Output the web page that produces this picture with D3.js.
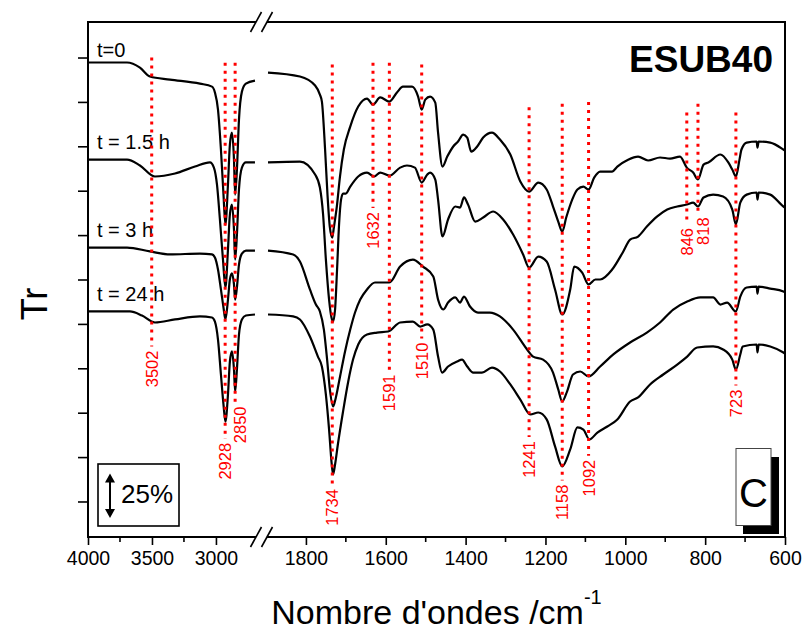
<!DOCTYPE html>
<html>
<head>
<meta charset="utf-8">
<script src="https://cdn.jsdelivr.net/npm/d3@7"></script>
<style>
	body { margin: 0; background: #fff; }
	text { font-family: "Liberation Sans", Arial, sans-serif; }
</style>
</head>
<body>
<div id="chart"></div>
<script>
// spectra: [wavenumber, Tr (offset, %)]
var spectrumT0 = [
	[4000,247.2],[3695,247.2],[3594,244.3],[3516,239.3],[3359,237.6],[3125,235.3],[3031,233.6],[3008,230.3],[2984,220.7],[2961,198.2],[2941,172.8],[2926,155.9],[2906,178.5],[2891,201],[2875,207.7],[2859,192.5],[2850,172.8],[2836,186.9],[2820,215],[2797,230.8],[2766,235.3],[2695,237],
	[1895,241.5],[1815,239.3],[1777,234.2],[1765,229.1],[1760,225.2],[1752,198.2],[1746,172.8],[1740,154.3],[1734,148.6],[1730,154.3],[1722,167.2],[1715,182.4],[1705,198.2],[1689,211.1],[1669,222.4],[1647,226.9],[1632,223.5],[1614,227.5],[1591,225.2],[1572,230.3],[1557,233.6],[1534,233.6],[1519,228],[1510,220.7],[1501,226.3],[1489,228],[1476,224.6],[1469,207.7],[1458,188.6],[1446,194.2],[1431,199.9],[1419,202.7],[1406,206.6],[1396,204.9],[1386,197],[1371,199.9],[1356,204.9],[1334,207.7],[1314,203.8],[1288,195.4],[1263,180.2],[1241,174.5],[1218,179.6],[1197,175.7],[1181,166.1],[1168,157.6],[1158,152],[1148,159.9],[1133,170],[1120,175.7],[1105,177.3],[1092,175.7],[1078,182.4],[1063,185.8],[1033,185.8],[1020,188.6],[993,192.5],[968,194.2],[943,192],[913,193.7],[888,193.1],[863,194.2],[846,188],[830,185.2],[818,181.3],[804,189.7],[792,190.9],[762,195.4],[742,190.9],[732,186.9],[723,183],[714,192.5],[709,198.2],[696,202.1],[671,202.7],[669,199.3],[666,202.7],[637,202.1],[604,198.2],[600,197.6]
];
var spectrumT15 = [
	[4000,192.5],[3695,192.5],[3594,189.2],[3477,183],[3320,184.7],[3164,188.6],[3047,190.9],[3016,188],[2992,178.5],[2969,158.8],[2945,136.2],[2926,120.5],[2906,141.9],[2891,161.6],[2875,167.2],[2859,153.1],[2850,136.2],[2836,150.3],[2820,175.7],[2797,188],[2766,190.9],[2695,190.9],
	[1895,190.9],[1815,191.4],[1777,184.1],[1765,176.8],[1757,161.6],[1750,136.2],[1742,113.7],[1736,103.6],[1732,101.3],[1727,108.1],[1722,130.6],[1717,156],[1712,170],[1707,173.4],[1700,173.4],[1689,177.3],[1669,183],[1647,185.2],[1629,183],[1614,185.2],[1591,183.5],[1564,188],[1547,189.2],[1527,188],[1510,179.6],[1496,184.1],[1489,185.2],[1476,181.3],[1469,170],[1458,149.2],[1444,158.8],[1426,166.1],[1414,165.5],[1404,171.2],[1394,167.2],[1376,157.6],[1356,159.9],[1331,163.3],[1306,158.8],[1281,150.3],[1256,139.1],[1241,131.7],[1218,137.9],[1197,135.1],[1176,119.4],[1158,105.3],[1138,119.4],[1128,132.3],[1108,128.9],[1092,122.2],[1075,125],[1063,125],[1033,130.6],[1005,140.8],[988,147.5],[968,149.2],[946,154.8],[920,160.5],[895,164.4],[870,166.1],[846,167.2],[830,168.3],[818,166.1],[804,171.2],[780,172.8],[755,171.7],[732,164.4],[723,156],[712,168.3],[696,172.8],[671,174],[669,170],[666,174],[637,172.8],[604,166.1],[600,165.5]
];
var spectrumT3 = [
	[4000,143],[3695,143],[3516,140.8],[3359,139.1],[3125,139.6],[3031,139.1],[3008,137.4],[2984,130.6],[2961,119.4],[2941,109.2],[2926,102.5],[2906,113.7],[2891,125],[2875,128.4],[2859,122.2],[2850,113.7],[2836,120.5],[2820,133.4],[2797,139.6],[2766,141.3],[2695,141.3],
	[1895,141.3],[1832,139.1],[1815,135.1],[1790,119.4],[1775,110.9],[1765,107],[1755,96.8],[1747,80],[1740,63.1],[1732,53.5],[1725,58.6],[1715,69.8],[1702,84.5],[1689,96.8],[1677,106.4],[1664,113.7],[1647,119.4],[1627,123.3],[1591,123.3],[1564,132.3],[1532,136.2],[1507,132.3],[1481,126.7],[1469,113.7],[1456,108.1],[1444,112],[1426,114.9],[1414,112],[1404,115.4],[1389,109.8],[1369,106.4],[1339,106.4],[1314,104.2],[1281,96.8],[1246,85.6],[1231,81.6],[1206,79.9],[1181,72.6],[1168,63.1],[1158,56.3],[1146,61.9],[1131,71.5],[1113,73.2],[1092,70.4],[1063,76],[1030,82.8],[988,89.5],[946,95.1],[913,100.8],[880,108.1],[845,112.6],[812,114.9],[780,114.9],[762,110.9],[745,112],[723,107],[712,115.4],[696,120.5],[671,121],[669,117.1],[666,121],[637,119.9],[604,118.2],[600,117.7]
];
var spectrumT24 = [
	[4000,107],[3672,107],[3578,104.7],[3477,100.8],[3320,102.5],[3125,104.2],[3031,103.6],[3008,101.3],[2984,91.2],[2961,71.5],[2941,54.6],[2926,45],[2906,60.2],[2891,78.8],[2875,84.5],[2859,74.3],[2850,61.9],[2836,74.3],[2820,94],[2797,102.5],[2766,104.7],[2695,105.3],
	[1895,105.3],[1832,104.2],[1815,102.5],[1790,92.9],[1770,81.6],[1760,76],[1750,60.2],[1742,40.5],[1736,22.5],[1732,15.2],[1727,20.8],[1720,32.1],[1707,50.7],[1694,67.6],[1682,79.9],[1669,88.4],[1647,94],[1622,95.1],[1594,95.7],[1564,100.8],[1532,101.3],[1514,98.5],[1496,99.7],[1481,96.8],[1469,81.6],[1459,72.6],[1444,76],[1421,78.8],[1409,79.9],[1396,76],[1381,72.6],[1359,72.6],[1334,75.4],[1314,73.2],[1288,65.9],[1263,57.4],[1238,49],[1218,50.1],[1197,46.2],[1176,31],[1158,19.7],[1138,29.3],[1120,41.7],[1105,40.5],[1090,34.9],[1070,38.8],[1045,42.2],[1020,46.2],[988,56.3],[968,58.6],[938,65.9],[905,71.5],[870,77.1],[845,81.6],[820,86.7],[780,87.3],[755,85.6],[732,79.9],[723,74.3],[712,82.8],[706,87.3],[671,88.4],[669,83.9],[666,88.4],[637,87.3],[604,83.9],[600,83.3]
];
var seriesLabels = ["t=0", "t = 1.5 h", "t = 3 h", "t = 24 h"];

// band assignments (dotted red lines): wavenumber, top of line and top of label in Tr units
var bandWn = [3502, 2928, 2850, 1734, 1632, 1591, 1510, 1241, 1158, 1092, 846, 818, 723];
var bandTop = [250, 247, 247, 246, 247, 247, 246, 222, 224, 225, 219, 224, 219];
var bandLabelTop = [85, 33, 53.5, 7, 163, 71.5, 89.5, 34, 9.5, 23.5, 154, 160, 63];

var leftTicks = [4000, 3500, 3000],
	leftMinor = [3750, 3250],
	rightTicks = [1800, 1600, 1400, 1200, 1000, 800, 600],
	rightMinor = [1700, 1500, 1300, 1100, 900, 700],
	yTicks = [0, 25, 50, 75, 100, 125, 150, 175, 200, 225, 250];

var FtirChart = (function() {
	"use strict";

	var chartWidth = 805,
		chartHeight = 633,
		frame = { left: 88, right: 785, top: 22, bottom: 537 },
		breakA = 256,
		breakB = 267,
		xLeft = d3.scaleLinear().domain([4000, 2640]).range([frame.left, 262]),
		xRight = d3.scaleLinear().domain([1900, 600]).range([266, frame.right]),
		y = d3.scaleLinear().domain([-20, 270]).range([frame.bottom, frame.top]),
		labelGaps = [5, 11, 11, 10],
		svg;

	function xPos(wn) {
		return wn > 2000 ? xLeft(wn) : xRight(wn);
	}

	function slashes(g, yAxis) {
		[breakA, breakB].forEach(function(cx) {
			g.append("line")
				.attr("x1", cx - 5.5).attr("y1", yAxis + 10)
				.attr("x2", cx + 5.5).attr("y2", yAxis - 10)
				.attr("stroke", "#000")
				.attr("stroke-width", 1.6);
		});
	}

	function create(selector) {
		var line = d3.line()
				.x(function(d) { return xPos(d[0]); })
				.y(function(d) { return y(d[1]); })
				.curve(d3.curveMonotoneX),
			allSpectra = [spectrumT0, spectrumT15, spectrumT3, spectrumT24],
			axisG, curveG, bandG;

		svg = d3.select(selector)
			.append("svg")
			.attr("width", chartWidth)
			.attr("height", chartHeight);

		// frame with broken top & bottom lines
		axisG = svg.append("g")
			.attr("stroke", "#000")
			.attr("stroke-width", 2)
			.attr("fill", "none");
		axisG.append("path")
			.attr("d", "M" + breakA + "," + frame.top + "H" + frame.left + "V" + frame.bottom + "H" + breakA);
		axisG.append("path")
			.attr("d", "M" + breakB + "," + frame.top + "H" + frame.right + "V" + frame.bottom + "H" + breakB);
		slashes(svg, frame.top);
		slashes(svg, frame.bottom);

		// y ticks (no labels)
		svg.append("g")
			.attr("transform", "translate(" + frame.left + ",0)")
			.call(d3.axisLeft(y).tickValues(yTicks).tickSize(10).tickFormat(""))
			.call(function(g) {
				g.select(".domain").remove();
				g.selectAll("line").attr("stroke-width", 1.6);
			});

		// x axes, one per segment
		[[xLeft, leftTicks, leftMinor], [xRight, rightTicks, rightMinor]].forEach(function(seg) {
			var g = svg.append("g")
				.attr("transform", "translate(0," + frame.bottom + ")");
			g.call(d3.axisBottom(seg[0]).tickValues(seg[1]).tickSize(8).tickPadding(6).tickFormat(d3.format("d")))
				.call(function(a) {
					a.select(".domain").remove();
					a.selectAll("line").attr("stroke-width", 1.6);
					a.selectAll("text")
						.attr("font-size", "19.5px")
						.attr("fill", "#000")
						.attr("font-family", "'Liberation Sans', Arial, sans-serif");
				});
			g.selectAll(".minor")
				.data(seg[2])
				.enter()
				.append("line")
				.attr("class", "minor")
				.attr("x1", function(d) { return seg[0](d); })
				.attr("x2", function(d) { return seg[0](d); })
				.attr("y1", 0)
				.attr("y2", 5)
				.attr("stroke", "#000")
				.attr("stroke-width", 1.6);
		});

		// spectra, drawn as two segments either side of the break
		curveG = svg.append("g")
			.attr("fill", "none")
			.attr("stroke", "#000")
			.attr("stroke-width", 2.2)
			.attr("stroke-linejoin", "round");
		allSpectra.forEach(function(s) {
			curveG.append("path").attr("d", line(s.filter(function(d) { return d[0] > 2000; })));
			curveG.append("path").attr("d", line(s.filter(function(d) { return d[0] < 2000; })));
		});

		// series labels above each trace start
		svg.selectAll(".slabel")
			.data(seriesLabels)
			.enter()
			.append("text")
			.attr("class", "slabel")
			.attr("x", 97)
			.attr("y", function(d, i) { return y(allSpectra[i][0][1]) - labelGaps[i]; })
			.attr("font-size", "20px")
			.text(function(d) { return d; });

		// dotted band lines and rotated labels
		bandG = svg.append("g");
		bandWn.forEach(function(wn, i) {
			var x = xPos(wn),
				labelY = y(bandLabelTop[i]),
				dx = (i > 0 && Math.abs(xPos(bandWn[i - 1]) - x) < 14) ? 5 : 0;
			bandG.append("line")
				.attr("x1", x).attr("x2", x)
				.attr("y1", y(bandTop[i]))
				.attr("y2", labelY - 4)
				.attr("stroke", "#ff0000")
				.attr("stroke-width", 3)
				.attr("stroke-dasharray", "3,5");
			bandG.append("text")
				.attr("transform", "translate(" + (x + dx) + "," + labelY + ") rotate(-90)")
				.attr("text-anchor", "end")
				.attr("dy", "0.36em")
				.attr("font-size", "16.5px")
				.attr("fill", "#ff0000")
				.text(wn);
		});

		// sample name
		svg.append("text")
			.attr("x", 773)
			.attr("y", 72)
			.attr("text-anchor", "end")
			.attr("font-size", "37px")
			.attr("font-weight", "bold")
			.text("ESUB40");

		// axis titles
		var xt = svg.append("text")
			.attr("x", (frame.left + frame.right) / 2)
			.attr("y", 624)
			.attr("text-anchor", "middle")
			.attr("font-size", "34px");
		xt.append("tspan").text("Nombre d'ondes /cm");
		xt.append("tspan").attr("font-size", "20px").attr("dy", "-20").text("-1");

		svg.append("text")
			.attr("transform", "translate(47,304) rotate(-90)")
			.attr("text-anchor", "middle")
			.attr("font-size", "36px")
			.text("Tr");

		// 25 % scale bar
		var barBottom = 518,
			barTop = barBottom - (y(0) - y(25)),
			barX = 110;
		svg.append("rect")
			.attr("x", 98).attr("y", 464)
			.attr("width", 81).attr("height", 62)
			.attr("fill", "#fff")
			.attr("stroke", "#000")
			.attr("stroke-width", 1.6);
		svg.append("line")
			.attr("x1", barX).attr("x2", barX)
			.attr("y1", barTop + 6).attr("y2", barBottom - 6)
			.attr("stroke", "#000")
			.attr("stroke-width", 2);
		svg.append("path")
			.attr("d", "M" + barX + "," + barTop + " l-5,9 h10 Z M" + barX + "," + barBottom + " l-5,-9 h10 Z")
			.attr("fill", "#000");
		svg.append("text")
			.attr("x", 121)
			.attr("y", 503)
			.attr("font-size", "26px")
			.text("25%");

		// panel letter with drop shadow
		svg.append("rect")
			.attr("x", 743).attr("y", 457)
			.attr("width", 36).attr("height", 77)
			.attr("fill", "#000");
		svg.append("rect")
			.attr("x", 736).attr("y", 448.5)
			.attr("width", 35).attr("height", 77)
			.attr("fill", "#fff")
			.attr("stroke", "#444")
			.attr("stroke-width", 1);
		svg.append("text")
			.attr("x", 753.5)
			.attr("y", 507)
			.attr("text-anchor", "middle")
			.attr("font-size", "40px")
			.text("C");
	}

	return {
		create : create
	};

})();

FtirChart.create("#chart");
</script>
</body>
</html>
